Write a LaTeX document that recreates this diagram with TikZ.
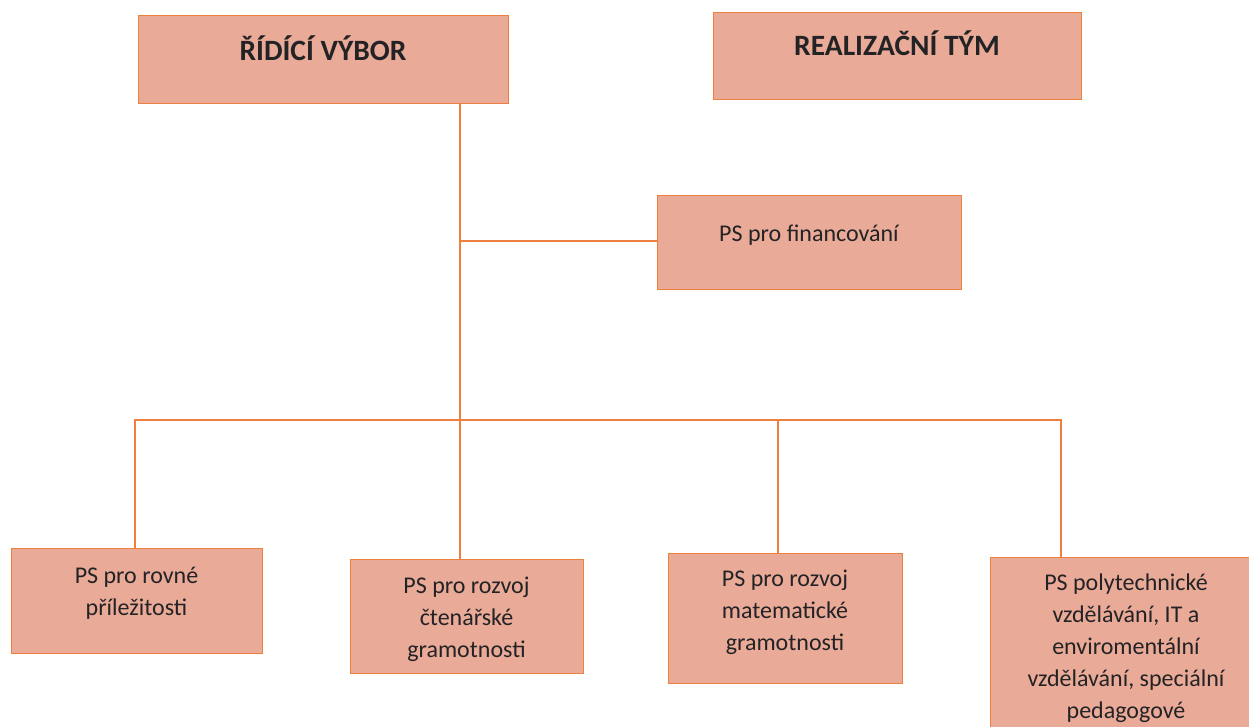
\documentclass[tikz,border=0pt]{standalone}
\usepackage{fontspec}
\setmainfont{Carlito}
\definecolor{boxfill}{RGB}{234,170,152}
\definecolor{boxline}{RGB}{236,128,60}
\definecolor{txt}{RGB}{35,35,38}
\newcommand{\ttl}[2]{\raisebox{#1}[0pt][0pt]{#2}}
\newcommand{\lns}[2]{\raisebox{#1}[0pt][0pt]{\begin{tabular}{@{}c@{}}#2\end{tabular}}}
\tikzset{
  orgbox/.style={draw=boxline, line width=1pt, fill=boxfill, text=txt, align=center, inner sep=0pt,
    font=\fontsize{24}{32}\selectfont},
  titlebox/.style={orgbox, font=\fontsize{29.5}{34}\selectfont\bfseries},
  conn/.style={draw=boxline, line width=1.3pt}
}
\begin{document}
\begin{tikzpicture}[x=1pt,y=-1pt]
\useasboundingbox (0,0) rectangle (1249,727);
\clip (0,0) rectangle (1249,727);
\node[titlebox, minimum width=370pt, minimum height=88pt] (rv) at (323,60) {\ttl{-1pt}{ŘÍDÍCÍ VÝBOR}};
\node[titlebox, minimum width=368pt, minimum height=87pt] (rt) at (897,56.5) {\ttl{1pt}{REALIZAČNÍ TÝM}};
\node[orgbox, minimum width=304pt, minimum height=93pt] (fin) at (809,242.5) {\lns{1.5pt}{PS pro financování}};
\node[orgbox, minimum width=251pt, minimum height=105pt] (b1) at (136.5,600.5) {\lns{1.5pt}{PS pro rovné\\příležitosti}};
\node[orgbox, minimum width=233pt, minimum height=114pt] (b2) at (466.5,616) {\lns{-9pt}{PS pro rozvoj\\čtenářské\\gramotnosti}};
\node[orgbox, minimum width=234pt, minimum height=130pt] (b3) at (785,618) {\lns{-0.5pt}{PS pro rozvoj\\matematické\\gramotnosti}};
\node[orgbox, minimum width=272pt, minimum height=182pt, anchor=north] (b4) at (1126,557) {PS polytechnické\\vzdělávání, IT a\\enviromentální\\vzdělávání, speciální\\pedagogové};
\coordinate (tr) at (460,420);
\coordinate (fj) at (460,241);
\coordinate (d1) at (135,420);
\coordinate (d3) at (778,420);
\coordinate (d4) at (1061,420);
\draw[conn] (rv.south -| tr) -- (b2.north -| tr);
\draw[conn] (fj) -- (fin.west |- fj);
\draw[conn] (b1.north -| d1) -- (d1) -- (d4) -- (b4.north -| d4);
\draw[conn] (d3) -- (b3.north -| d3);
\end{tikzpicture}
\end{document}
